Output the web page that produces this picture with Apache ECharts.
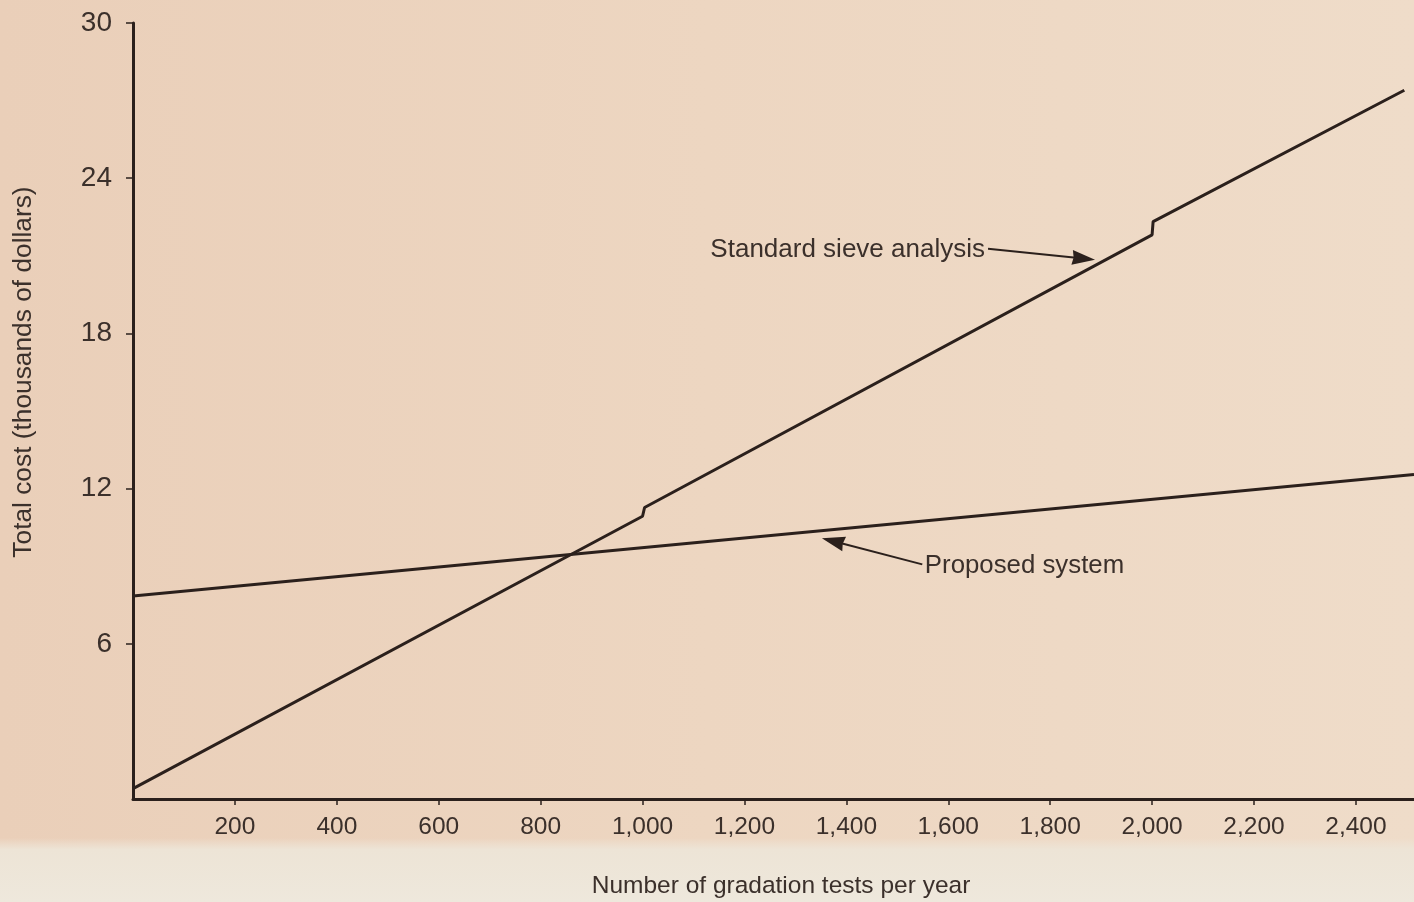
<!DOCTYPE html>
<html>
<head>
<meta charset="utf-8">
<script src="https://cdn.jsdelivr.net/npm/echarts@6/dist/echarts.min.js"></script>
<style>
html,body{margin:0;padding:0;background:#ecd5c0;overflow:hidden;}
#chart{width:1414px;height:902px;}
</style>
</head>
<body>
<div id="chart"></div>
<script>
// ---- data ----
const xTicks = [200, 400, 600, 800, 1000, 1200, 1400, 1600, 1800, 2000, 2200, 2400];
const yTicks = [6, 12, 18, 24, 30];
const standardSieve = [[0, 0.4], [1000, 10.93], [1004, 11.27], [2000, 21.81], [2002, 22.32], [2495, 27.4]];
const proposedSystem = [[0, 7.85], [2514, 12.55]];
const standardLabel = 'Standard sieve analysis';
const proposedLabel = 'Proposed system';
const xTitle = 'Number of gradation tests per year';
const yTitle = 'Total cost (thousands of dollars)';
// annotation anchors in data units: [text point, arrow start, arrow tip]
const standardArrow = [[1672, 21.24], [1678, 21.27], [1888, 20.85]];
const proposedArrow = [[1554, 9.03], [1549, 9.07], [1352, 10.08]];

const ink = '#2b201c';
const textColor = '#3b302b';
const font = 'Liberation Sans, Arial, Helvetica, sans-serif';

const chart = echarts.init(document.getElementById('chart'), null, {renderer: 'canvas'});

const option = {
  animation: false,
  backgroundColor: 'transparent',
  grid: {left: 133, right: 0, top: 23, bottom: 103, containLabel: false, outerBoundsMode: 'none'},
  xAxis: {
    type: 'value', min: 0, max: 2514,
    axisLine: {show: true, onZero: false, lineStyle: {color: ink, width: 3}},
    axisTick: {show: true, length: 6, lineStyle: {color: ink, width: 1.5},
      customValues: xTicks},
    axisLabel: {color: textColor, fontSize: 24.5, fontFamily: font, margin: 16,
      customValues: xTicks,
      formatter: v => v.toLocaleString('en-US')},
    splitLine: {show: false}
  },
  yAxis: {
    type: 'value', min: 0, max: 30,
    axisLine: {show: true, onZero: false, lineStyle: {color: ink, width: 3}},
    axisTick: {show: true, length: 7, lineStyle: {color: ink, width: 1.5},
      customValues: yTicks},
    axisLabel: {color: textColor, fontSize: 28, fontFamily: font, margin: 21,
      customValues: yTicks,
      formatter: v => String(v)},
    splitLine: {show: false}
  },
  series: [
    {name: standardLabel, type: 'line', data: standardSieve, symbol: 'none',
      lineStyle: {color: ink, width: 3}, z: 3},
    {name: proposedLabel, type: 'line', data: proposedSystem, symbol: 'none',
      lineStyle: {color: ink, width: 3}, z: 3}
  ]
};
chart.setOption(option);

function toPx(p) { return chart.convertToPixel({gridIndex: 0}, p); }
function arrowGraphics(a) {
  const s = toPx(a[1]), t = toPx(a[2]);
  const dx = t[0] - s[0], dy = t[1] - s[1];
  const len = Math.hypot(dx, dy), ux = dx / len, uy = dy / len;
  const headLen = 23, headHalf = 7.5;
  const bx = t[0] - ux * headLen, by = t[1] - uy * headLen;
  return [
    {type: 'line', z: 9, silent: true,
      shape: {x1: s[0], y1: s[1], x2: bx + ux * 4, y2: by + uy * 4},
      style: {stroke: ink, lineWidth: 2}},
    {type: 'polygon', z: 9, silent: true,
      shape: {points: [[t[0], t[1]], [bx - uy * headHalf, by + ux * headHalf], [bx + ux * 1.5, by + uy * 1.5], [bx + uy * headHalf, by - ux * headHalf]]},
      style: {fill: ink}}
  ];
}

const sp = toPx(standardArrow[0]);
const pp = toPx(proposedArrow[0]);
chart.setOption({
  graphic: [
    {type: 'rect', z: -10, silent: true, shape: {x: 0, y: 0, width: 1414, height: 902},
      style: {fill: new echarts.graphic.LinearGradient(0, 0, 1, 0, [
        {offset: 0, color: '#eacfb9'}, {offset: 0.5, color: '#edd6c1'}, {offset: 1, color: '#efdcc9'}])}},
    {type: 'rect', z: -9, silent: true, shape: {x: 0, y: 838, width: 1414, height: 64},
      style: {fill: new echarts.graphic.LinearGradient(0, 0, 0, 1, [
        {offset: 0, color: 'rgba(238,229,216,0)'}, {offset: 0.18, color: '#ede4d6'}, {offset: 1, color: '#eee8dc'}])}},
    {type: 'text', z: 10, silent: true, x: 781, y: 886,
      style: {text: xTitle, fill: textColor, font: '24.5px ' + font, align: 'center', verticalAlign: 'middle'}},
    {type: 'text', z: 10, silent: true, x: 24, y: 372, rotation: Math.PI / 2,
      style: {text: yTitle, fill: textColor, font: '26.3px ' + font, align: 'center', verticalAlign: 'middle'}},
    {type: 'text', z: 10, silent: true, x: sp[0], y: sp[1],
      style: {text: standardLabel, fill: textColor, font: '26px ' + font, align: 'right', verticalAlign: 'middle'}},
    {type: 'text', z: 10, silent: true, x: pp[0], y: pp[1],
      style: {text: proposedLabel, fill: textColor, font: '25.8px ' + font, align: 'left', verticalAlign: 'middle'}}
  ].concat(arrowGraphics(standardArrow), arrowGraphics(proposedArrow))
});
</script>
</body>
</html>
